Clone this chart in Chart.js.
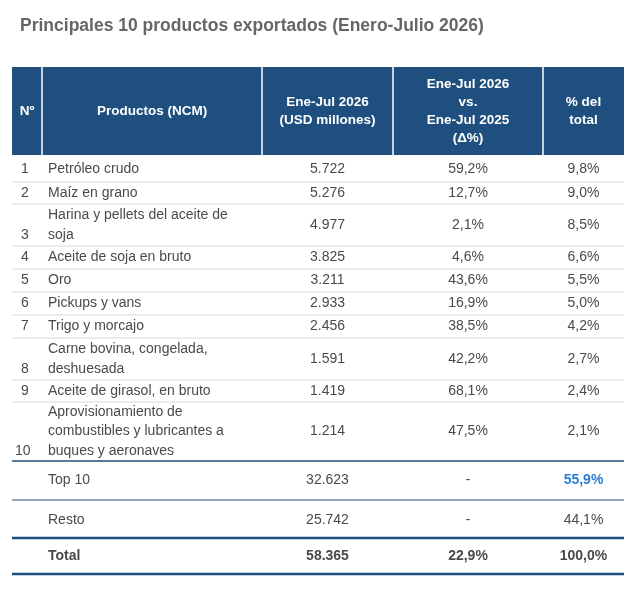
<!DOCTYPE html>
<html><head><meta charset="utf-8">
<script src="https://cdn.jsdelivr.net/npm/chart.js@4.4.0/dist/chart.umd.min.js"></script>
<style>body{margin:0;background:#fff}#c{display:block}</style>
</head><body>
<canvas id="c" width="640" height="594"></canvas>
<script>
const title = 'Principales 10 productos exportados (Enero-Julio 2026)';
const headers = ['Nº', 'Productos (NCM)', 'Ene-Jul 2026\n(USD millones)', 'Ene-Jul 2026\nvs.\nEne-Jul 2025\n(Δ%)', '% del\ntotal'];
const products = ['Petróleo crudo', 'Maíz en grano', 'Harina y pellets del aceite de\nsoja', 'Aceite de soja en bruto', 'Oro', 'Pickups y vans', 'Trigo y morcajo', 'Carne bovina, congelada,\ndeshuesada', 'Aceite de girasol, en bruto', 'Aprovisionamiento de\ncombustibles y lubricantes a\nbuques y aeronaves'];
const values = ['5.722', '5.276', '4.977', '3.825', '3.211', '2.933', '2.456', '1.591', '1.419', '1.214'];
const changes = ['59,2%', '12,7%', '2,1%', '4,6%', '43,6%', '16,9%', '38,5%', '42,2%', '68,1%', '47,5%'];
const shares = ['9,8%', '9,0%', '8,5%', '6,6%', '5,5%', '5,0%', '4,2%', '2,7%', '2,4%', '2,1%'];
const summaryLabels = ['Top 10', 'Resto', 'Total'];
const summaryValues = ['32.623', '25.742', '58.365'];
const summaryChanges = ['-', '-', '22,9%'];
const summaryShares = ['55,9%', '44,1%', '100,0%'];

const colEdges = [12, 42, 262, 393, 543, 624];
const blue = '#1e4f7e';
const grey = '#4a4a4a';

const tablePlugin = {
  id: 'table',
  afterDraw(chart) {
    const ctx = chart.ctx, xs = chart.scales.x, ys = chart.scales.y;
    const X = v => xs.getPixelForValue(v), Y = v => ys.getPixelForValue(v);
    const cx = i => (X(colEdges[i]) + X(colEdges[i + 1])) / 2;
    ctx.save();
    ctx.textBaseline = 'middle';
    ctx.fillStyle = '#666';
    ctx.font = 'bold 17.5px "Liberation Sans", Arial';
    ctx.textAlign = 'left';
    ctx.fillText(title, X(20), Y(26));
    // header
    ctx.fillStyle = blue;
    ctx.fillRect(X(12), Y(67), X(624) - X(12), Y(155) - Y(67));
    ctx.strokeStyle = '#fff'; ctx.lineWidth = 1.5;
    colEdges.slice(1, -1).forEach(e => { ctx.beginPath(); ctx.moveTo(X(e), Y(67)); ctx.lineTo(X(e), Y(155)); ctx.stroke(); });
    ctx.fillStyle = '#fff'; ctx.font = 'bold 13.5px "Liberation Sans", Arial'; ctx.textAlign = 'center';
    headers.forEach((h, i) => {
      const lines = h.split('\n'), lh = 18, y0 = 111 - (lines.length - 1) * lh / 2;
      lines.forEach((l, k) => ctx.fillText(l, cx(i), Y(y0 + k * lh)));
    });
    // body rows
    const rowTops = [157, 182, 204, 246, 269, 292, 315, 338, 380, 402, 461];
    ctx.font = '14px "Liberation Sans", Arial'; ctx.fillStyle = grey;
    products.forEach((p, i) => {
      const top = rowTops[i], bot = rowTops[i + 1], mid = (top + bot) / 2;
      const lines = p.split('\n'), lh = 19.5;
      const y0 = mid - (lines.length - 1) * lh / 2;
      ctx.textAlign = 'left';
      lines.forEach((l, k) => ctx.fillText(l, X(48), Y(y0 + k * lh)));
      ctx.fillText(String(i + 1), X(i === 9 ? 15 : 21), Y(y0 + (lines.length - 1) * lh));
      ctx.textAlign = 'center';
      ctx.fillText(values[i], cx(2), Y(mid));
      ctx.fillText(changes[i], cx(3), Y(mid));
      ctx.fillText(shares[i], cx(4), Y(mid));
      if (i < 9) {
        ctx.strokeStyle = '#d8d8d8'; ctx.lineWidth = 1;
        ctx.beginPath(); ctx.moveTo(X(12), Y(bot)); ctx.lineTo(X(624), Y(bot)); ctx.stroke();
      }
    });
    // summary rows
    const lines = [[461, 1.5], [500, 1], [538, 2.5], [574, 2.5]];
    lines.forEach(([y, w]) => { ctx.strokeStyle = blue; ctx.lineWidth = w; ctx.beginPath(); ctx.moveTo(X(12), Y(y)); ctx.lineTo(X(624), Y(y)); ctx.stroke(); });
    const mids = [480, 520, 556];
    summaryLabels.forEach((s, i) => {
      const bold = i === 2;
      ctx.font = (bold ? 'bold ' : '') + '14px "Liberation Sans", Arial';
      ctx.fillStyle = grey; ctx.textAlign = 'left';
      ctx.fillText(s, X(48), Y(mids[i]));
      ctx.textAlign = 'center';
      ctx.fillText(summaryValues[i], cx(2), Y(mids[i]));
      ctx.fillText(summaryChanges[i], cx(3), Y(mids[i]));
      if (i === 0) { ctx.fillStyle = '#2a7fd4'; ctx.font = 'bold 14px "Liberation Sans", Arial'; }
      ctx.fillText(summaryShares[i], cx(4), Y(mids[i]));
    });
    ctx.restore();
  }
};

new Chart(document.getElementById('c'), {
  type: 'scatter',
  data: { datasets: [{ data: [] }] },
  options: {
    responsive: false, animation: false,
    layout: { padding: 0 },
    plugins: { legend: { display: false }, tooltip: { enabled: false } },
    scales: {
      x: { type: 'linear', min: 0, max: 640, display: false },
      y: { type: 'linear', min: 0, max: 594, reverse: true, display: false }
    }
  },
  plugins: [tablePlugin]
});
</script>
</body></html>
